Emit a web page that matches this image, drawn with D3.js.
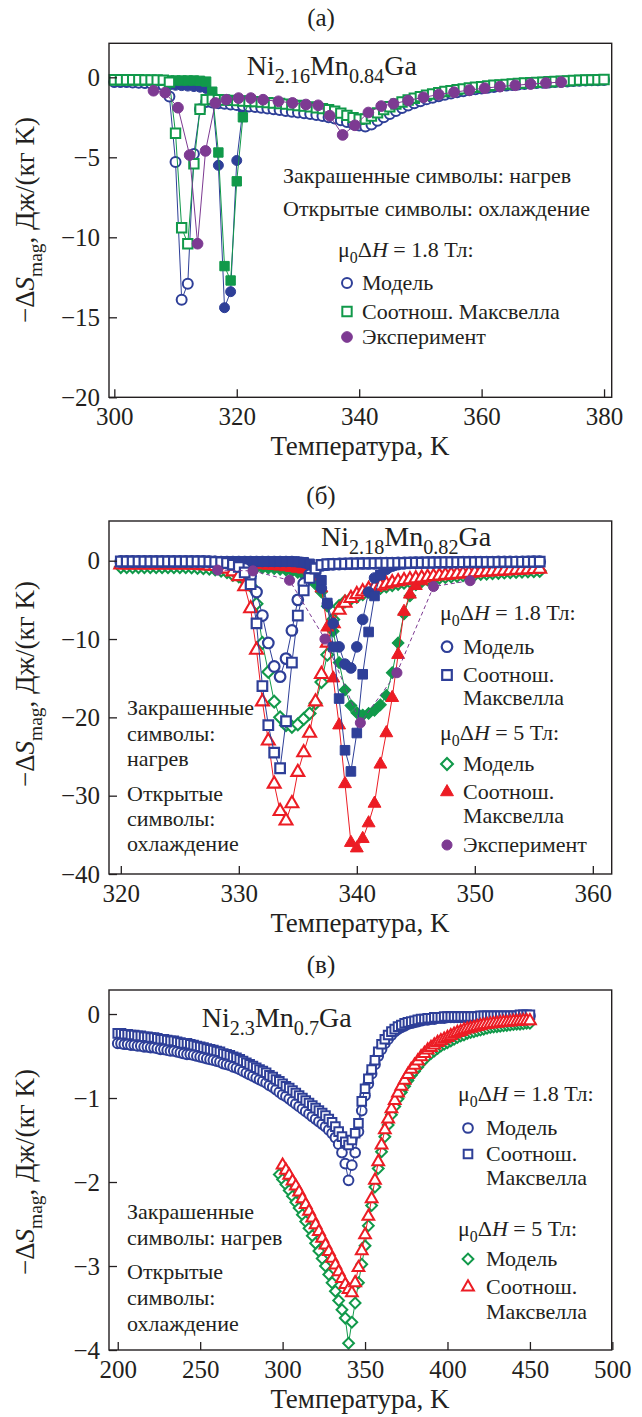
<!DOCTYPE html>
<html>
<head>
<meta charset="utf-8">
<script src="https://cdn.jsdelivr.net/npm/d3@7"></script>
<style>
  body { margin: 0; background: #fff; }
  text { font-family: "Liberation Serif", "DejaVu Serif", serif; fill: #231f20; white-space: pre; }
</style>
</head>
<body>
<svg id="chart" width="642" height="1417"></svg>
<script>
// ---------- (а) Ni2.16Mn0.84Ga ----------
const tempA = [300,301,302,303,304,305,306,307,308,309,
  310,311,312,313,314,315,316,317,318,319,
  320,321,322,323,324,325,326,327,328,329,
  330,331,332,333,334,335,336,337,338,339,
  340,341,342,343,344,345,346,347,348,349,
  350,351,352,353,354,355,356,357,358,359,
  360,361,362,363,364,365,366,367,368,369,
  370,371,372,373,374,375,376,377,378,379,380];
const modelCoolA = [-0.3,-0.3,-0.3,-0.32,-0.34,-0.36,-0.38,-0.42,-0.5,-1.2,
  -5.3,-13.9,-12.9,-4.8,-2.0,-1.55,-1.58,-1.62,-1.66,-1.7,
  -1.74,-1.78,-1.82,-1.86,-1.9,-1.95,-2.0,-2.05,-2.1,-2.15,
  -2.2,-2.25,-2.3,-2.36,-2.42,-2.5,-2.58,-2.68,-2.8,-2.92,
  -3.02,-3.08,-2.95,-2.72,-2.5,-2.3,-2.1,-1.92,-1.76,-1.62,
  -1.5,-1.38,-1.28,-1.18,-1.09,-1.01,-0.94,-0.87,-0.81,-0.75,
  -0.7,-0.65,-0.6,-0.56,-0.52,-0.48,-0.45,-0.42,-0.39,-0.36,
  -0.34,-0.32,-0.3,-0.28,-0.26,-0.24,-0.22,-0.2,-0.19,-0.18,-0.17];
const modelHeatA = [-0.3,-0.3,-0.3,-0.32,-0.34,-0.36,-0.38,-0.42,-0.45,-0.48,
  -0.5,-0.52,-0.55,-0.58,-0.62,-0.7,-1.2,-5.5,-14.4,-13.4,
  -5.2,-2.0,-1.82];
const maxwellCoolA = [-0.15,-0.15,-0.15,-0.15,-0.15,-0.16,-0.16,-0.17,-0.18,-0.3,
  -3.5,-9.4,-10.4,-5.4,-2.0,-1.4,-1.38,-1.4,-1.42,-1.44,
  -1.46,-1.48,-1.5,-1.52,-1.55,-1.58,-1.61,-1.64,-1.68,-1.72,
  -1.76,-1.8,-1.85,-1.9,-1.96,-2.03,-2.12,-2.24,-2.38,-2.52,
  -2.62,-2.6,-2.42,-2.22,-2.02,-1.84,-1.68,-1.54,-1.42,-1.31,
  -1.21,-1.12,-1.04,-0.96,-0.89,-0.83,-0.77,-0.72,-0.67,-0.62,
  -0.58,-0.54,-0.5,-0.47,-0.44,-0.41,-0.38,-0.36,-0.34,-0.32,
  -0.3,-0.28,-0.26,-0.24,-0.22,-0.2,-0.18,-0.17,-0.16,-0.15,-0.14];
const maxwellHeatA = [-0.2,-0.2,-0.2,-0.2,-0.2,-0.2,-0.2,-0.2,-0.2,-0.2,
  -0.2,-0.2,-0.2,-0.2,-0.22,-0.27,-0.9,-4.7,-11.8,-12.7,
  -6.5,-2.5,-1.55];
const expTempA = [306.4,308.3,310.4,312.3,313.6,314.9,316.5,318.3,320.3,322.3,324.3,326.8,
  329.1,331.3,333.3,335.2,337.3,339.3,341.5,343.6,345.6,348,350.5,353,355.5,358,360.5,363,
  365.5,368,370.5,373];
const expA = [-0.84,-0.96,-1.9,-4.86,-10.4,-4.6,-1.6,-1.4,-1.3,-1.3,-1.4,-1.5,
  -1.6,-1.7,-1.75,-2.4,-3.6,-3.0,-2.2,-1.8,-1.65,-1.45,-1.25,-1.08,-0.93,-0.8,-0.68,-0.58,
  -0.5,-0.42,-0.36,-0.3];
const xTicksA = [300, 320, 340, 360, 380];
const yTicksA = [0, -5, -10, -15, -20];

// ---------- (б) Ni2.18Mn0.82Ga ----------
const tempB = [320,320.5,321,321.5,322,322.5,323,323.5,324,324.5,
  325,325.5,326,326.5,327,327.5,328,328.5,329,329.5,
  330,330.5,331,331.5,332,332.5,333,333.5,334,334.5,
  335,335.5,336,336.5,337,337.5,338,338.5,339,339.5,
  340,340.5,341,341.5,342,342.5,343,343.5,344,344.5,
  345,345.5,346,346.5,347,347.5,348,348.5,349,349.5,
  350,350.5,351,351.5,352,352.5,353,353.5,354,354.5,355,355.5];
const modelCoolB = [-0.1,-0.1,-0.1,-0.1,-0.1,-0.1,-0.1,-0.1,-0.1,-0.1,
  -0.1,-0.1,-0.1,-0.1,-0.1,-0.12,-0.15,-0.2,-0.3,-0.5,
  -0.7,-1.0,-2.0,-4.0,-7.0,-10.5,-13.5,-14.8,-12.5,-8.9,
  -5.0,-2.9,-1.8,-1.0,-0.6,-0.5,-0.45,-0.42,-0.4,-0.38,
  -0.36,-0.35,-0.34,-0.33,-0.32,-0.31,-0.3,-0.29,-0.28,-0.27,
  -0.26,-0.25,-0.24,-0.23,-0.22,-0.21,-0.2,-0.2,-0.19,-0.19,
  -0.18,-0.18,-0.17,-0.17,-0.16,-0.16,-0.15,-0.15,-0.14,-0.14,-0.13,-0.13];
const maxwellCoolB = [-0.1,-0.1,-0.1,-0.1,-0.1,-0.1,-0.1,-0.1,-0.1,-0.1,
  -0.1,-0.1,-0.1,-0.1,-0.1,-0.12,-0.15,-0.2,-0.3,-0.5,
  -0.8,-1.5,-3.0,-8.0,-16.0,-21.0,-24.5,-26.5,-20.5,-13.0,
  -7.0,-3.8,-2.2,-1.0,-0.55,-0.45,-0.42,-0.4,-0.38,-0.36,
  -0.35,-0.34,-0.33,-0.32,-0.31,-0.3,-0.29,-0.28,-0.27,-0.26,
  -0.25,-0.24,-0.23,-0.22,-0.21,-0.2,-0.2,-0.19,-0.19,-0.18,
  -0.18,-0.17,-0.17,-0.16,-0.16,-0.15,-0.15,-0.14,-0.14,-0.13,-0.13,-0.12];
const modelHeatB = [-0.1,-0.1,-0.1,-0.1,-0.1,-0.1,-0.1,-0.1,-0.1,-0.1,
  -0.1,-0.1,-0.1,-0.1,-0.1,-0.1,-0.1,-0.1,-0.1,-0.1,
  -0.1,-0.1,-0.1,-0.1,-0.1,-0.1,-0.1,-0.1,-0.1,-0.1,
  -0.15,-0.25,-0.5,-1.5,-3.5,-5.5,-8.0,-11.0,-13.2,-13.7,
  -11.0,-7.5,-4.0,-2.2,-1.8,-1.1,-0.7,-0.5,-0.4];
const maxwellHeatB = [-0.1,-0.1,-0.1,-0.1,-0.1,-0.1,-0.1,-0.1,-0.1,-0.1,
  -0.1,-0.1,-0.1,-0.1,-0.1,-0.1,-0.1,-0.1,-0.1,-0.1,
  -0.1,-0.1,-0.1,-0.1,-0.1,-0.1,-0.1,-0.1,-0.1,-0.1,
  -0.15,-0.2,-0.4,-1.0,-2.5,-5.4,-11.0,-17.6,-24.2,-26.9,
  -22.0,-14.5,-9.1,-4.5,-1.8,-0.9,-0.6,-0.45,-0.4];
const model5CoolB = [-0.8,-0.8,-0.8,-0.8,-0.8,-0.8,-0.8,-0.8,-0.8,-0.8,
  -0.8,-0.8,-0.85,-0.9,-0.95,-1.0,-1.1,-1.25,-1.45,-1.8,
  -2.0,-2.5,-3.2,-5.5,-10.5,-14.2,-18.0,-20.0,-21.0,-21.2,
  -20.9,-20.2,-19.5,-18.2,-15.5,-12.0,-7.5,-5.8,-5.2,-4.85,
  -4.6,-4.25,-3.95,-3.7,-3.48,-3.28,-3.1,-2.94,-2.8,-2.67,
  -2.55,-2.44,-2.34,-2.24,-2.15,-2.07,-1.99,-1.92,-1.85,-1.79,
  -1.73,-1.68,-1.63,-1.58,-1.54,-1.5,-1.46,-1.42,-1.39,-1.36,-1.33,-1.3];
const maxwell5CoolB = [-0.5,-0.5,-0.5,-0.5,-0.5,-0.5,-0.5,-0.5,-0.5,-0.5,
  -0.5,-0.5,-0.52,-0.55,-0.6,-0.65,-0.72,-0.85,-1.05,-1.4,
  -2.0,-3.3,-6.1,-11.4,-18.0,-23.0,-28.5,-32.0,-33.2,-31.0,
  -27.0,-24.5,-22.0,-18.0,-14.5,-10.5,-8.0,-6.3,-5.4,-4.8,
  -4.3,-3.95,-3.65,-3.4,-3.18,-2.98,-2.8,-2.65,-2.52,-2.4,
  -2.29,-2.19,-2.1,-2.01,-1.93,-1.85,-1.78,-1.71,-1.65,-1.59,
  -1.53,-1.48,-1.43,-1.38,-1.33,-1.29,-1.25,-1.21,-1.17,-1.13,-1.1,-1.07];
const model5HeatB = [-0.8,-0.8,-0.8,-0.8,-0.8,-0.8,-0.8,-0.8,-0.8,-0.8,
  -0.8,-0.8,-0.8,-0.8,-0.8,-0.8,-0.8,-0.8,-0.8,-0.8,
  -0.8,-0.8,-0.82,-0.85,-0.9,-0.95,-1.0,-1.1,-1.2,-1.35,
  -1.5,-1.8,-2.3,-3.0,-4.0,-5.8,-9.0,-13.0,-16.5,-18.5,
  -19.4,-19.7,-19.5,-19.1,-18.4,-17.2,-14.3,-10.5,-6.8,-4.5,
  -3.1,-2.7,-2.45];
const maxwell5HeatB = [-0.5,-0.5,-0.5,-0.5,-0.5,-0.5,-0.5,-0.5,-0.5,-0.5,
  -0.5,-0.5,-0.5,-0.5,-0.5,-0.5,-0.5,-0.5,-0.5,-0.5,
  -0.5,-0.5,-0.5,-0.52,-0.55,-0.6,-0.65,-0.72,-0.8,-0.9,
  -1.0,-1.1,-1.3,-2.0,-3.5,-8.5,-15.0,-21.0,-28.5,-36.0,
  -36.7,-35.5,-33.5,-31.0,-26.0,-22.0,-17.5,-12.0,-6.5,-4.3,
  -3.2,-2.6,-2.2];
const expTempB = [328.2, 331.2, 334.3, 337.3, 340.3, 343.4, 346.5, 349.6];
const expB = [-1.2, -1.3, -2.5, -10.0, -20.7, -14.3, -3.3, -2.55];
const xTicksB = [320, 330, 340, 350, 360];
const yTicksB = [0, -10, -20, -30, -40];

// ---------- (в) Ni2.3Mn0.7Ga ----------
const tempC = [200,202,204,206,208,210,212,214,216,218,
  220,222,224,226,228,230,232,234,236,238,
  240,242,244,246,248,250,252,254,256,258,
  260,262,264,266,268,270,272,274,276,278,
  280,282,284,286,288,290,292,294,296,298,
  300,302,304,306,308,310,312,314,316,318,
  320,322,324,326,328,330,332,334,336,338,
  340,342,344,346,348,350,352,354,356,358,
  360,362,364,366,368,370,372,374,376,378,
  380,382,384,386,388,390,392,394,396,398,
  400,402,404,406,408,410,412,414,416,418,
  420,422,424,426,428,430,432,434,436,438,
  440,442,444,446,448,450];
const modelC = [-0.35,-0.35,-0.36,-0.36,-0.37,-0.37,-0.38,-0.38,-0.39,-0.39,
  -0.4,-0.4,-0.41,-0.42,-0.42,-0.43,-0.44,-0.44,-0.45,-0.46,
  -0.47,-0.48,-0.48,-0.49,-0.5,-0.51,-0.52,-0.53,-0.54,-0.55,
  -0.56,-0.57,-0.59,-0.6,-0.61,-0.63,-0.64,-0.66,-0.68,-0.7,
  -0.72,-0.74,-0.76,-0.78,-0.8,-0.82,-0.85,-0.87,-0.9,-0.93,
  -0.96,-0.98,-1.01,-1.04,-1.07,-1.1,-1.13,-1.16,-1.19,-1.22,
  -1.25,-1.28,-1.31,-1.34,-1.38,-1.42,-1.47,-1.55,-1.65,-1.78,
  -1.98,-1.8,-1.65,-1.4,-1.15,-0.97,-0.83,-0.71,-0.6,-0.5,
  -0.42,-0.35,-0.3,-0.25,-0.21,-0.18,-0.16,-0.14,-0.12,-0.11,
  -0.1,-0.09,-0.08,-0.07,-0.07,-0.06,-0.06,-0.05,-0.05,-0.05,
  -0.04,-0.04,-0.04,-0.04,-0.04,-0.04,-0.04,-0.04,-0.04,-0.04,
  -0.03,-0.03,-0.03,-0.03,-0.03,-0.03,-0.03,-0.03,-0.03,-0.03,
  -0.03,-0.03,-0.02,-0.02,-0.02,-0.02];
const maxwellC = [-0.23,-0.23,-0.24,-0.24,-0.25,-0.25,-0.26,-0.26,-0.27,-0.27,
  -0.28,-0.28,-0.29,-0.3,-0.3,-0.31,-0.32,-0.32,-0.33,-0.34,
  -0.35,-0.35,-0.36,-0.37,-0.38,-0.39,-0.4,-0.41,-0.42,-0.43,
  -0.44,-0.45,-0.47,-0.48,-0.49,-0.51,-0.52,-0.54,-0.56,-0.58,
  -0.6,-0.62,-0.64,-0.66,-0.68,-0.7,-0.73,-0.75,-0.78,-0.8,
  -0.83,-0.86,-0.88,-0.91,-0.94,-0.97,-1.0,-1.03,-1.06,-1.09,
  -1.12,-1.15,-1.18,-1.21,-1.25,-1.29,-1.34,-1.4,-1.46,-1.52,
  -1.56,-1.5,-1.42,-1.3,-1.04,-0.89,-0.77,-0.66,-0.55,-0.45,
  -0.36,-0.3,-0.25,-0.21,-0.18,-0.15,-0.13,-0.11,-0.1,-0.09,
  -0.08,-0.07,-0.06,-0.06,-0.05,-0.05,-0.04,-0.04,-0.04,-0.03,
  -0.03,-0.03,-0.03,-0.03,-0.03,-0.03,-0.03,-0.03,-0.03,-0.03,
  -0.02,-0.02,-0.02,-0.02,-0.02,-0.02,-0.02,-0.02,-0.02,-0.02,
  -0.02,-0.02,-0.01,-0.01,-0.01,-0.01];
// 5 T curves start at 298 K (model) and 300 K (Maxwell)
const model5C = [-1.91,
  -1.97,-2.03,-2.1,-2.17,-2.24,-2.31,-2.39,-2.47,-2.55,-2.64,
  -2.73,-2.82,-2.91,-3.0,-3.1,-3.2,-3.3,-3.41,-3.52,-3.62,
  -3.92,-3.67,-3.44,-3.2,-2.98,-2.76,-2.52,-2.28,-2.06,-1.84,
  -1.64,-1.46,-1.32,-1.2,-1.1,-1.01,-0.93,-0.86,-0.79,-0.73,
  -0.68,-0.63,-0.58,-0.54,-0.5,-0.47,-0.44,-0.41,-0.38,-0.36,
  -0.34,-0.32,-0.3,-0.28,-0.26,-0.25,-0.23,-0.22,-0.21,-0.2,
  -0.19,-0.18,-0.17,-0.16,-0.155,-0.15,-0.145,-0.14,-0.135,-0.13,
  -0.125,-0.12,-0.12,-0.115,-0.11,-0.11];
const maxwell5C = [-1.8,-1.86,-1.92,-1.99,-2.05,-2.12,-2.2,-2.27,-2.35,-2.43,
  -2.51,-2.59,-2.67,-2.75,-2.83,-2.91,-2.99,-3.07,-3.15,-3.22,
  -3.28,-3.32,-3.2,-3.02,-2.82,-2.63,-2.41,-2.2,-1.98,-1.76,
  -1.56,-1.38,-1.25,-1.13,-1.03,-0.94,-0.86,-0.79,-0.72,-0.66,
  -0.61,-0.56,-0.51,-0.47,-0.43,-0.4,-0.37,-0.34,-0.32,-0.3,
  -0.28,-0.26,-0.24,-0.22,-0.21,-0.19,-0.18,-0.17,-0.16,-0.15,
  -0.14,-0.13,-0.125,-0.12,-0.115,-0.11,-0.105,-0.1,-0.1,-0.095,
  -0.09,-0.09,-0.085,-0.08,-0.08,-0.08];
const xTicksC = [200, 250, 300, 350, 400, 450, 500];
const yTicksC = [0, -1, -2, -3, -4];

// ---------- drawing ----------
const INK = "#231f20";
const BLUE = "#2e3f98", GREEN = "#11994a", RED = "#ec1c24", PURPLE = "#7d3a92";
const LEFT = 109, RIGHT = 611.7;
const TXT = 22;
const svg = d3.select("#chart");
const shapes = { circle: d3.symbolCircle, square: d3.symbolSquare, diamond: d3.symbolSquare, triangle: d3.symbolTriangle };

function drawSymbol(g, cx, cy, s) {
  g.append("path")
    .attr("d", d3.symbol(shapes[s.shape], s.size)())
    .attr("transform", `translate(${cx},${cy})` + (s.shape === "diamond" ? " rotate(45)" : ""))
    .attr("fill", s.filled ? s.color : "#fff")
    .attr("stroke", s.color)
    .attr("stroke-width", s.filled ? 1 : (s.sw || 2));
}

// text with subscripts / italics: parts are strings or [str, "sub"|"it"]
function rich(g, x, y, parts, size, anchor, rotate) {
  const t = g.append("text").attr("x", x).attr("y", y)
    .attr("font-size", size).attr("text-anchor", anchor || "start");
  if (rotate) t.attr("transform", `rotate(-90,${x},${y})`);
  let shift = 0;
  parts.forEach(p => {
    const [str, kind] = typeof p === "string" ? [p, null] : p;
    const ts = t.append("tspan").text(str);
    const want = kind === "sub" ? size * 0.28 : 0;
    if (want !== shift) { ts.attr("dy", want - shift); shift = want; }
    if (kind === "sub") ts.attr("font-size", size * 0.72);
    if (kind === "it") ts.attr("font-style", "italic");
  });
  return t;
}

function panel(p) {
  const g = svg.append("g");
  const x = d3.scaleLinear().domain(p.xDomain).range([LEFT, RIGHT]);
  const y = d3.scaleLinear().domain(p.yDomain).range([p.bottom, p.top]);

  // series: line first, then symbols
  p.series.forEach(s => {
    const pts = s.v.map((v, i) => [s.t[i], v]).filter(d => d[1] != null);
    g.append("path").datum(pts)
      .attr("d", d3.line().x(d => x(d[0])).y(d => y(d[1])))
      .attr("fill", "none").attr("stroke", s.color).attr("stroke-width", 1)
      .attr("stroke-dasharray", s.dash ? "4,3" : null);
    pts.forEach(d => drawSymbol(g, x(d[0]), y(d[1]), s));
  });

  g.append("rect").attr("x", LEFT).attr("y", p.top)
    .attr("width", RIGHT - LEFT).attr("height", p.bottom - p.top)
    .attr("fill", "none").attr("stroke", INK).attr("stroke-width", 1.4);

  const gx = g.append("g").attr("transform", `translate(0,${p.bottom})`)
    .call(d3.axisBottom(x).tickValues(p.xTicks).tickSizeInner(-8).tickSizeOuter(0)
      .tickPadding(10).tickFormat(d3.format("d")));
  const gy = g.append("g").attr("transform", `translate(${LEFT},0)`)
    .call(d3.axisLeft(y).tickValues(p.yTicks).tickSizeInner(-8).tickSizeOuter(0)
      .tickPadding(9).tickFormat(d3.format("d")));
  [gx, gy].forEach(a => {
    a.select(".domain").remove();
    a.selectAll("line").attr("stroke", INK).attr("stroke-width", 1.3);
    a.selectAll("text").attr("font-size", 25).attr("fill", INK);
  });

  g.append("text").attr("x", 321).attr("y", p.top - 17).attr("text-anchor", "middle")
    .attr("font-size", 25).text(p.label);
  g.append("text").attr("x", 360).attr("y", p.bottom + 58).attr("text-anchor", "middle")
    .attr("font-size", 27).text("Температура, K");
  rich(g, 34, p.yLabelY, ["−Δ", ["S", "it"], ["mag", "sub"], ", Дж/(кг K)"], 27, "middle", true);
  rich(g, p.formula.x, p.formula.y, p.formula.parts, 28);
  return g;
}

function legendRow(g, sx, tx, y, sym, label) {
  drawSymbol(g, sx, y, sym);
  g.append("text").attr("x", tx).attr("y", y + 7).attr("font-size", TXT).text(label);
}
function lines(g, x, ys, texts) {
  texts.forEach((t, i) => g.append("text").attr("x", x).attr("y", ys[i]).attr("font-size", TXT).text(t));
}

// ----- panel (а)
const cA = { shape: "circle", size: 78, color: BLUE };
const sA = { shape: "square", size: 88, color: GREEN };
const eA = { shape: "circle", size: 90, color: PURPLE, filled: true };
const gA = panel({
  label: "(а)", top: 43.3, bottom: 397.3, xDomain: [299.13, 381.25], yDomain: [-20, 2.125],
  xTicks: xTicksA, yTicks: yTicksA, yLabelY: 220,
  formula: { x: 246.7, y: 75, parts: ["Ni", ["2.16", "sub"], "Mn", ["0.84", "sub"], "Ga"] },
  series: [
    { ...cA, filled: true, t: tempA, v: modelHeatA },
    { ...cA, t: tempA, v: modelCoolA },
    { ...sA, filled: true, t: tempA, v: maxwellHeatA },
    { ...sA, t: tempA, v: maxwellCoolA },
    { ...eA, t: expTempA, v: expA }
  ]
});
lines(gA, 283, [183, 216], ["Закрашенные символы: нагрев", "Открытые символы: охлаждение"]);
rich(gA, 338, 257, ["μ", ["0", "sub"], "Δ", ["H", "it"], " = 1.8 Тл:"], TXT);
legendRow(gA, 347, 362, 283, cA, "Модель");
legendRow(gA, 347, 362, 311.5, sA, "Соотнош. Максвелла");
legendRow(gA, 347, 362, 337, eA, "Эксперимент");

// ----- panel (б)
const cB = { shape: "circle", size: 88, color: BLUE, sw: 2.2 };
const sB = { shape: "square", size: 92, color: BLUE, sw: 2.2 };
const dB = { shape: "diamond", size: 70, color: GREEN, sw: 2.1 };
const tB = { shape: "triangle", size: 72, color: RED, sw: 2.1 };
const eB = { shape: "circle", size: 80, color: PURPLE, filled: true };
const gB = panel({
  label: "(б)", top: 521, bottom: 874, xDomain: [319.0, 361.6], yDomain: [-40, 5.07],
  xTicks: xTicksB, yTicks: yTicksB, yLabelY: 684,
  formula: { x: 321, y: 546, parts: ["Ni", ["2.18", "sub"], "Mn", ["0.82", "sub"], "Ga"] },
  series: [
    { ...dB, filled: true, t: tempB, v: model5HeatB },
    { ...dB, t: tempB, v: model5CoolB },
    { ...tB, filled: true, t: tempB, v: maxwell5HeatB },
    { ...tB, t: tempB, v: maxwell5CoolB },
    { ...cB, filled: true, t: tempB, v: modelHeatB },
    { ...sB, filled: true, t: tempB, v: maxwellHeatB },
    { ...cB, t: tempB, v: modelCoolB },
    { ...sB, t: tempB, v: maxwellCoolB },
    { ...eB, dash: true, t: expTempB, v: expB }
  ]
});
lines(gB, 127, [715, 741, 766, 801, 826, 851],
  ["Закрашенные", "символы:", "нагрев", "Открытые", "символы:", "охлаждение"]);
rich(gB, 440, 620, ["μ", ["0", "sub"], "Δ", ["H", "it"], " = 1.8 Тл:"], TXT);
legendRow(gB, 447, 463, 646.7, cB, "Модель");
legendRow(gB, 447, 463, 675, sB, "Соотнош.");
lines(gB, 463, [705], ["Максвелла"]);
rich(gB, 440, 740, ["μ", ["0", "sub"], "Δ", ["H", "it"], " = 5 Тл:"], TXT);
legendRow(gB, 447, 463, 764, dB, "Модель");
legendRow(gB, 447, 463, 792, { ...tB, filled: true }, "Соотнош.");
lines(gB, 463, [823], ["Максвелла"]);
legendRow(gB, 447, 463, 845, eB, "Эксперимент");

// ----- panel (в)
const cC = { shape: "circle", size: 74, color: BLUE, sw: 2 };
const sC = { shape: "square", size: 74, color: BLUE, sw: 2 };
const dC = { shape: "diamond", size: 58, color: GREEN, sw: 2 };
const tC = { shape: "triangle", size: 60, color: RED, sw: 2 };
const gC = panel({
  label: "(в)", top: 990, bottom: 1350, xDomain: [194.7, 499.6], yDomain: [-4, 0.286],
  xTicks: xTicksC, yTicks: yTicksC, yLabelY: 1172,
  formula: { x: 201.7, y: 1027, parts: ["Ni", ["2.3", "sub"], "Mn", ["0.7", "sub"], "Ga"] },
  series: [
    { ...cC, t: tempC, v: modelC },
    { ...sC, t: tempC, v: maxwellC },
    { ...dC, t: tempC.slice(tempC.indexOf(298)), v: model5C },
    { ...tC, t: tempC.slice(tempC.indexOf(300)), v: maxwell5C }
  ]
});
lines(gC, 127, [1219, 1245, 1279, 1305, 1331],
  ["Закрашенные", "символы: нагрев", "Открытые", "символы:", "охлаждение"]);
rich(gC, 458, 1101, ["μ", ["0", "sub"], "Δ", ["H", "it"], " = 1.8 Тл:"], TXT);
legendRow(gC, 468, 486, 1128, cC, "Модель");
legendRow(gC, 468, 486, 1154, sC, "Соотнош.");
lines(gC, 486, [1185], ["Максвелла"]);
rich(gC, 458, 1236, ["μ", ["0", "sub"], "Δ", ["H", "it"], " = 5 Тл:"], TXT);
legendRow(gC, 468, 486, 1259, dC, "Модель");
legendRow(gC, 468, 486, 1287, tC, "Соотнош.");
lines(gC, 486, [1319], ["Максвелла"]);
</script>
</body>
</html>
